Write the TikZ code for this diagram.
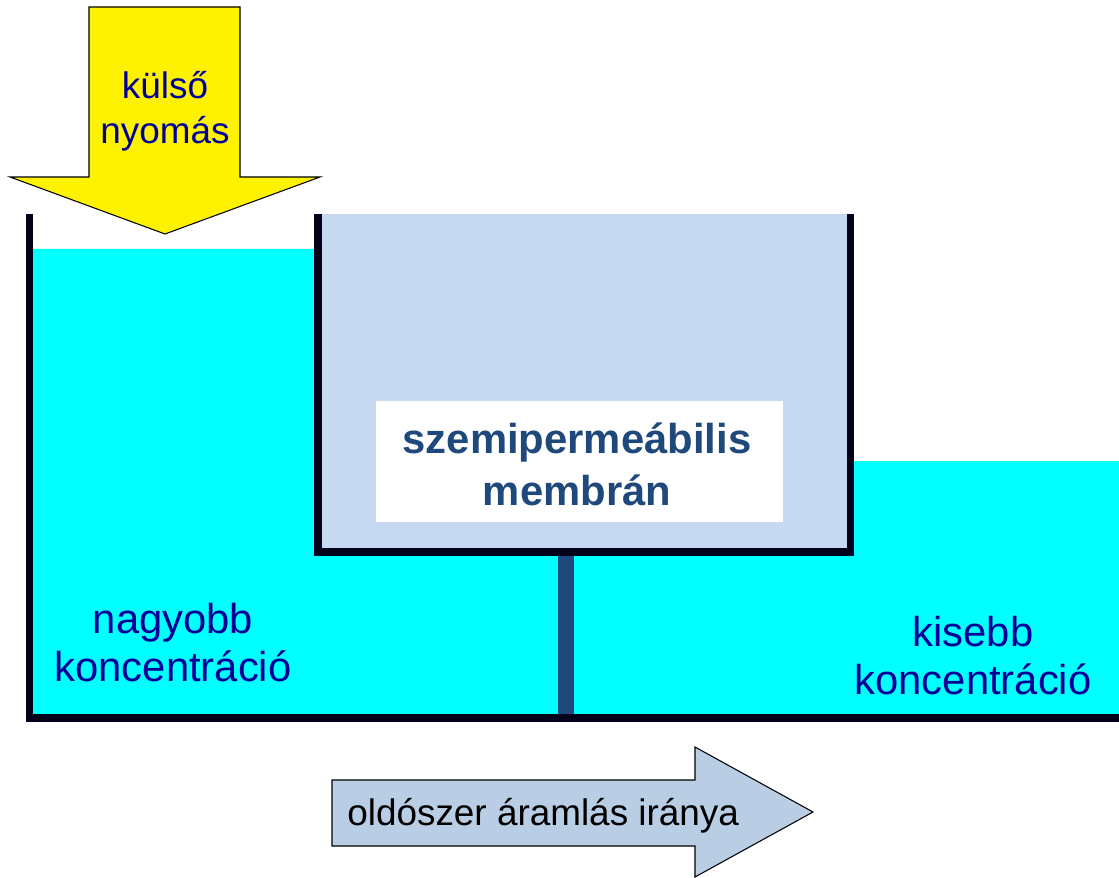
\documentclass[tikz,border=0pt]{standalone}
\usepackage{fontspec}
\setmainfont{Liberation Sans}
\usetikzlibrary{positioning}
\definecolor{water}{HTML}{00FFFF}
\definecolor{membfill}{HTML}{C6D9F1}
\definecolor{membbar}{HTML}{1F497D}
\definecolor{wallc}{HTML}{02021A}
\definecolor{labelc}{HTML}{000099}
\definecolor{flowfill}{HTML}{B9CDE5}
\tikzset{osmosis/.style={
  x=0.02cm,y=-0.02cm,
  line join=miter
},
  wall/.style={wallc,line width=0.155cm},
  bluelabel/.style={labelc,inner sep=0pt,align=center,font=\fontsize{23.8}{27.5}\selectfont}
}

\begin{document}
\begin{tikzpicture}[osmosis]
  \useasboundingbox (0,0) rectangle (1119,878);
  \fill[water] (33,249)--(314,249)--(314,556)--(854,556)--(854,461)--(1119,461)--(1119,714)--(33,714)--cycle;
  \fill[membfill] (318,214) rectangle (850,552);
  \draw[wall] (29.5,214)--(29.5,718)--(1119,718);
  \draw[wall] (318,214)--(318,552)--(850.5,552)--(850.5,214);
  \fill[membbar] (558,556) rectangle (574,714);
  \fill[white] (376,401) rectangle (783,522);
  \draw[fill=yellow,line width=0.6pt] (89,7)--(240,7)--(240,177)--(320,177)--(165,234)--(10,177)--(89,177)--cycle;
  \draw[fill=flowfill,line width=0.6pt] (332,780)--(695,780)--(695,747)--(813,812)--(695,877)--(695,846)--(332,846)--cycle;
  \node[bluelabel,font=\fontsize{21}{25.5}\selectfont] (push) at (165,111) {külső\\nyomás};
  \node[bluelabel] (high) at (173,642.5) {nagyobb\\koncentráció};
  \node[bluelabel] (low) at (973,655.5) {kisebb\\koncentráció};
  \node[bluelabel,membbar,font=\bfseries\fontsize{23.8}{29.5}\selectfont] (membrane) at (577,464.5) {szemipermeábilis\\membrán};
  \node[anchor=base west,inner sep=0pt,font=\fontsize{21}{25}\selectfont] (flow) at (347,825) {oldószer áramlás iránya};
\end{tikzpicture}
\end{document}
